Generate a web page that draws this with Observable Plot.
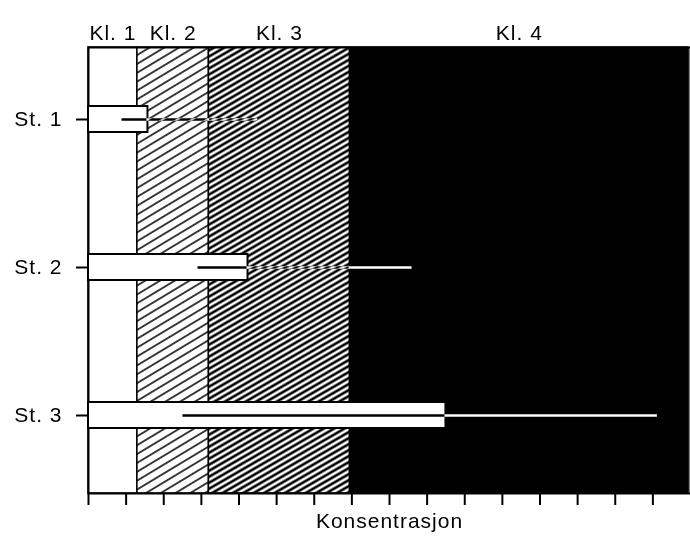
<!DOCTYPE html>
<html><head><meta charset="utf-8">
<script src="https://cdn.jsdelivr.net/npm/d3@7"></script>
<script src="https://cdn.jsdelivr.net/npm/@observablehq/plot@0.6"></script>
<style>
html,body{margin:0;padding:0;background:#fff;}
</style>
</head><body><div id="chart"></div>
<script>
// Classes (Kl.) with limits on the concentration axis
const classes = ["Kl. 1", "Kl. 2", "Kl. 3", "Kl. 4"];
const classLimits = [0, 1.3, 3.2, 6.95, 15.95];
// Stations
const stations = ["St. 1", "St. 2", "St. 3"];
const barEnd = [1.58, 4.24, 9.5];
const rangeLow = [0.89, 2.91, 2.51];
const rangeHigh = [4.5, 8.6, 15.12];
// Axis ticks (unlabelled)
const xTicks = d3.range(0, 16);
const axisTitle = "Konsentrasjon";

const bandFill = {"Kl. 1": "white", "Kl. 2": "url(#hatchLight)", "Kl. 3": "url(#hatchDense)", "Kl. 4": "black"};

const bands = classes.map((name, i) => ({name, lo: classLimits[i], hi: classLimits[i + 1]}));
const rows = stations.map((station, i) => ({station, end: barEnd[i], lo: rangeLow[i], hi: rangeHigh[i]}));

function patternDefs() {
  const defs = d3.create("svg:defs");
  const p1 = defs.append("pattern").attr("id", "hatchLight").attr("patternUnits", "userSpaceOnUse")
    .attr("width", 20).attr("height", 7.6).attr("patternTransform", "rotate(-31)");
  p1.append("rect").attr("width", 20).attr("height", 7.6).attr("fill", "white");
  p1.append("line").attr("x1", 0).attr("x2", 20).attr("y1", 3.8).attr("y2", 3.8).attr("stroke", "black").attr("stroke-width", 1.5);
  const p2 = defs.append("pattern").attr("id", "hatchDense").attr("patternUnits", "userSpaceOnUse")
    .attr("width", 20).attr("height", 5.2).attr("patternTransform", "rotate(-30)");
  p2.append("rect").attr("width", 20).attr("height", 5.2).attr("fill", "white");
  p2.append("line").attr("x1", 0).attr("x2", 20).attr("y1", 2.6).attr("y2", 2.6).attr("stroke", "black").attr("stroke-width", 2.6);
  return defs.node();
}

const FS = 21;
const chart = Plot.plot({
  width: 690, height: 539,
  marginLeft: 88, marginRight: 0, marginTop: 47, marginBottom: 46,
  style: {fontFamily: "'Liberation Sans', Arial, sans-serif", fontSize: "21px", color: "black", background: "white", letterSpacing: "1px"},
  x: {domain: [0, 16], axis: null},
  y: {domain: stations, range: [43.5, 490], padding: 0, axis: null},
  marks: [
    patternDefs,
    ...bands.map(b => Plot.rect([b], {x1: "lo", x2: "hi", fill: bandFill[b.name], stroke: "black", strokeWidth: 1.5})),
    Plot.frame({stroke: "black", strokeWidth: 2}),
    Plot.text(bands, {x: d => (d.lo + d.hi) / 2, text: "name", frameAnchor: "top", lineAnchor: "bottom", dy: -8, fill: "black", fontSize: FS}),
    Plot.barX(rows, {y: "station", x: "end", fill: "white", stroke: "black", strokeWidth: 2, insetTop: 61, insetBottom: 61}),
    Plot.ruleY(rows, {y: "station", x1: "lo", x2: "hi", stroke: "white", strokeWidth: 2.5, mixBlendMode: "difference"}),
    Plot.axisY({tickSize: 12, tickPadding: 14, strokeWidth: 2, fill: "black", label: null, fontSize: FS}),
    Plot.axisX({ticks: xTicks, tickSize: 12, strokeWidth: 2, tickFormat: () => "", label: null}),
    Plot.text([axisTitle], {text: d => d, frameAnchor: "bottom", lineAnchor: "top", dy: 20, fill: "black", fontSize: FS})
  ]
});
document.getElementById("chart").append(chart);
</script>
</body></html>
